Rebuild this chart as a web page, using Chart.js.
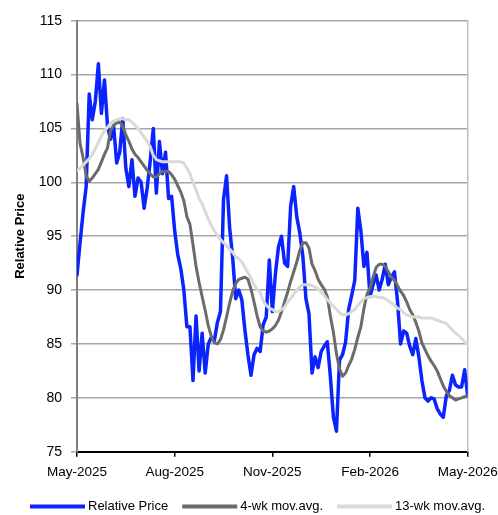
<!DOCTYPE html>
<html>
<head>
<meta charset="utf-8">
<script src="https://cdn.jsdelivr.net/npm/chart.js@4.4.1/dist/chart.umd.min.js"></script>
<style>
  html, body { margin: 0; padding: 0; background: #ffffff; }
  #wrap { width: 498px; height: 515px; position: relative; }
</style>
</head>
<body>
<div id="wrap"><canvas id="c" width="498" height="515"></canvas></div>
<script>
const tickLabels = ["May-2025", "Aug-2025", "Nov-2025", "Feb-2026", "May-2026"];
const seriesNames = ["Relative Price", "4-wk mov.avg.", "13-wk mov.avg."];

const relativePrice = [
  91.4, 94.4, 97.2, 99.6, 108.2, 105.8, 107.5, 111.0, 106.4, 109.5,
  105.2, 104.0, 105.2, 101.8, 102.8, 105.9, 101.3, 99.6, 102.1, 98.7,
  100.4, 100.0, 97.6, 99.5, 102.0, 105.0, 99.0, 103.8, 100.8, 102.8,
  98.5, 98.7, 95.5, 93.3, 92.0, 90.0, 86.6, 86.6, 81.6, 87.6,
  82.5, 86.0, 82.3, 85.0, 85.6, 85.3, 87.0, 88.0, 98.4, 100.6,
  95.8, 93.0, 89.2, 90.0, 89.1, 86.3, 84.0, 82.1, 84.0, 84.6,
  84.3, 86.8, 87.5, 92.8, 88.0, 91.5, 94.0, 95.0, 92.5, 92.2,
  97.8, 99.6, 96.8, 95.3, 93.1, 89.2, 87.8, 82.3, 83.8, 82.8,
  84.3, 84.8, 85.2, 82.0, 78.2, 76.9, 83.5, 84.0, 85.2, 88.2,
  89.5, 90.9, 97.6, 95.5, 92.2, 93.5, 89.4, 90.5, 91.4, 90.0,
  91.0, 92.4, 90.5, 91.2, 91.7, 89.0, 85.0, 86.2, 86.0, 84.8,
  84.0, 85.5, 83.8, 81.6, 80.0, 79.7, 80.0, 79.9, 79.0, 78.5,
  78.2, 80.2, 80.7, 82.1, 81.2, 81.0, 81.0, 82.6, 80.2
];

const movAvg4 = [
  107.3, 103.6, 102.3, 100.6, 100.1, 100.4, 100.8, 101.2, 101.9, 102.6,
  103.2, 104.8, 105.3, 105.5, 105.6, 105.2, 104.4, 103.8, 103.1, 102.6,
  102.3, 101.9, 101.5, 101.1, 100.8, 100.5, 100.5, 100.8, 101.0, 101.0,
  101.0, 100.7, 100.3, 99.7, 99.1, 98.3, 96.8, 96.1, 94.2, 92.2,
  90.7, 89.4, 88.1, 86.7, 85.7, 85.1, 85.0, 85.4, 86.3, 87.5,
  88.8, 89.9, 90.6, 91.0, 91.1, 91.2, 91.0, 90.1, 88.9, 87.6,
  86.6, 86.2, 86.1, 86.2, 86.4, 86.7, 87.2, 88.0, 88.9, 89.8,
  90.8, 91.7, 92.6, 93.7, 94.4, 94.4, 93.9, 92.4, 91.8, 91.0,
  90.5, 90.1, 89.4, 87.6, 86.1, 84.1, 82.7, 82.0, 82.3, 83.0,
  83.6, 84.5, 85.6, 86.6, 88.3, 89.6, 90.2, 91.2, 92.1, 92.4,
  92.4, 92.2, 91.7, 91.2, 90.9, 90.4, 89.9, 89.5, 88.9, 88.2,
  87.7, 87.0, 86.2, 85.1, 84.5, 83.9, 83.4, 83.0, 82.5, 81.8,
  81.1, 80.6, 80.2, 80.0, 79.8, 79.9, 80.0, 80.1, 80.2
];

const movAvg13 = [
  101.1, 101.3, 101.6, 101.9, 102.2, 102.6, 103.1, 103.7, 104.3, 104.8,
  105.1, 105.5, 105.7, 105.8, 105.9, 105.9, 105.8, 105.8, 105.6, 105.3,
  105.0, 104.6, 104.2, 103.8, 103.3, 102.5, 102.1, 102.0, 101.9, 101.9,
  101.9, 101.9, 101.9, 101.9, 101.9, 101.8, 101.3, 100.8, 100.0, 99.3,
  98.5, 98.0, 97.3, 96.6, 96.0, 95.5, 95.1, 94.7, 94.4, 94.1,
  93.8, 93.5, 93.1, 92.9, 92.6, 92.1, 91.6, 91.1, 90.5, 90.1,
  89.8, 89.0, 88.6, 88.3, 88.2, 88.0, 88.0, 88.2, 88.4, 88.9,
  89.2, 89.6, 90.0, 90.3, 90.5, 90.5, 90.5, 90.4, 90.3, 90.1,
  89.8, 89.5, 89.1, 88.8, 88.5, 88.2, 87.9, 87.7, 87.7, 87.8,
  88.0, 88.2, 88.6, 88.9, 89.2, 89.3, 89.4, 89.4, 89.4, 89.3,
  89.3, 89.2, 89.0, 88.8, 88.6, 88.3, 88.2, 87.9, 87.7, 87.6,
  87.5, 87.5, 87.5, 87.4, 87.4, 87.4, 87.4, 87.3, 87.2, 87.1,
  87.0, 86.9, 86.6, 86.3, 86.0, 85.8, 85.5, 85.2, 84.9
];

const yTicks = [75, 80, 85, 90, 95, 100, 105, 110, 115];

const FONT = "'Liberation Sans', Arial, Helvetica, sans-serif";
const lastIndex = relativePrice.length - 1;
const xTickPositions = tickLabels.map((_, k) => k * lastIndex / (tickLabels.length - 1));
const xIndex = relativePrice.map((_, i) => i);

// Single-row legend drawn from the chart's own datasets (labels + colours)
const lineLegend = {
  id: 'lineLegend',
  afterDraw(chart) {
    const ctx = chart.ctx;
    const startX = 30, centerY = 506.5, lineLen = 55, textGap = 3, itemGap = 14;
    ctx.save();
    ctx.font = "13px " + FONT;
    ctx.textBaseline = 'middle';
    ctx.textAlign = 'left';
    let x = startX;
    chart.data.datasets.forEach(ds => {
      ctx.strokeStyle = ds.borderColor;
      ctx.lineWidth = 4;
      ctx.lineCap = 'butt';
      ctx.beginPath();
      ctx.moveTo(x, centerY);
      ctx.lineTo(x + lineLen, centerY);
      ctx.stroke();
      ctx.fillStyle = '#000000';
      const tx = x + lineLen + textGap;
      ctx.fillText(ds.label, tx, centerY);
      x = tx + ctx.measureText(ds.label).width + itemGap;
    });
    ctx.restore();
  }
};

new Chart(document.getElementById('c'), {
  type: 'line',
  data: {
    labels: xIndex,
    datasets: [
      { label: seriesNames[0], data: relativePrice, borderColor: '#0a23ff', backgroundColor: '#0a23ff', borderWidth: 3.5, order: 3 },
      { label: seriesNames[1], data: movAvg4, borderColor: '#6b6b6b', backgroundColor: '#6b6b6b', borderWidth: 3, order: 2 },
      { label: seriesNames[2], data: movAvg13, borderColor: '#d9d9d9', backgroundColor: '#d9d9d9', borderWidth: 3, order: 1 }
    ]
  },
  options: {
    responsive: false,
    animation: false,
    devicePixelRatio: 1,
    elements: {
      point: { radius: 0, hoverRadius: 0 },
      line: { tension: 0, borderJoinStyle: 'round', borderCapStyle: 'round', fill: false }
    },
    layout: { padding: { left: 0, right: 0, top: 20.7, bottom: 35 } },
    plugins: {
      tooltip: { enabled: false },
      legend: { display: false }
    },
    scales: {
      x: {
        type: 'linear',
        min: 0,
        max: lastIndex,
        afterBuildTicks(scale) { scale.ticks = xTickPositions.map(v => ({ value: v })); },
        afterFit(scale) { scale.height = 28.3; scale.paddingLeft = 0; scale.paddingRight = 0; },
        ticks: {
          autoSkip: false,
          maxRotation: 0,
          minRotation: 0,
          padding: 7,
          color: '#000000',
          font: { family: FONT, size: 13.5 },
          callback(value) {
            const k = xTickPositions.indexOf(value);
            return k >= 0 ? tickLabels[k] : null;
          }
        },
        grid: { drawOnChartArea: false, drawTicks: true, tickLength: 5, color: '#000000', lineWidth: 1.5 },
        border: { display: true, color: '#000000', width: 2 }
      },
      y: {
        type: 'linear',
        position: 'left',
        min: 75,
        max: 115,
        afterBuildTicks(scale) { scale.ticks = yTicks.map(v => ({ value: v })); },
        afterFit(scale) { scale.width = 77; scale.paddingTop = 0; scale.paddingBottom = 0; },
        ticks: {
          padding: 9,
          color: '#000000',
          font: { family: FONT, size: 14 }
        },
        grid: { color: '#a6a6a6', lineWidth: 1.5, tickLength: 6, drawTicks: true },
        border: { display: true, color: '#808080', width: 2 },
        title: {
          display: true,
          text: 'Relative Price',
          color: '#000000',
          font: { family: FONT, size: 13, weight: 'bold' },
          padding: { top: 13, bottom: 0 }
        }
      },
      yR: {
        type: 'linear',
        position: 'right',
        display: true,
        min: 75,
        max: 115,
        afterFit(scale) { scale.width = 30.3; scale.paddingTop = 0; scale.paddingBottom = 0; },
        ticks: { display: false },
        grid: { display: false, drawTicks: false },
        border: { display: true, color: '#c0c0c0', width: 1.5 }
      }
    }
  },
  plugins: [lineLegend]
});
</script>
</body>
</html>
